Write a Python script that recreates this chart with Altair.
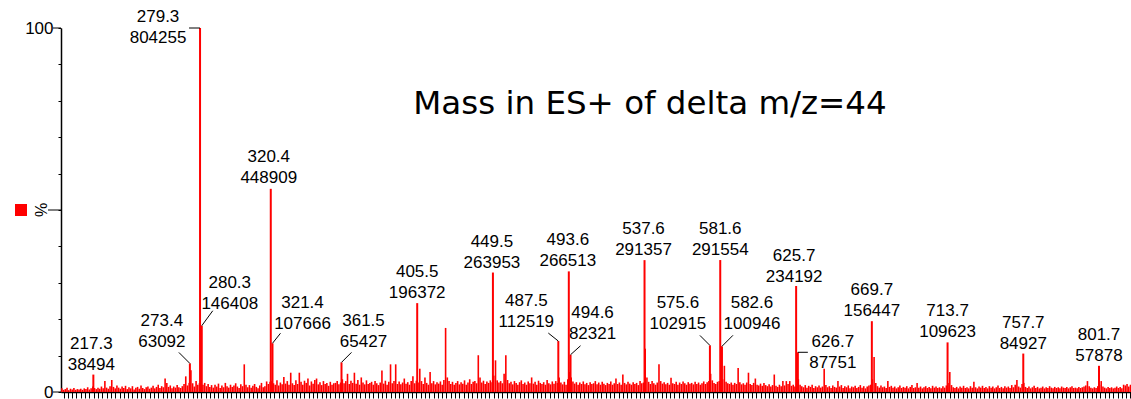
import altair as alt
import pandas as pd
import numpy as np

# ---------------- data ----------------
PEAK_MZ = [217.3, 273.4, 279.3, 280.3, 320.4, 321.4, 361.5, 405.5, 449.5, 487.5, 493.6,
           494.6, 537.6, 575.6, 581.6, 582.6, 625.7, 626.7, 669.7, 713.7, 757.7, 801.7]
PEAK_INT = [38494, 63092, 804255, 146408, 448909, 107666, 65427, 196372, 263953, 112519, 266513,
            82321, 291357, 102915, 291554, 100946, 234192, 87751, 156447, 109623, 84927, 57878]
BASE_INT = 804255

# unlabeled background sticks, % of base peak, one per integer m/z (row key = first m/z)
NOISE_ROWS = {
    199: [1.0, 0.6, 0.8, 1.2, 0.5, 0.9, 0.7, 1.1, 0.6, 0.8],
    209: [0.7, 0.9, 0.6, 1.0, 0.8, 1.3, 0.7, 1.0, 1.5, 1.1],
    219: [0.8, 1.2, 0.9, 1.5, 1.0, 3.0, 1.2, 0.9, 1.6, 3.3],
    229: [1.4, 1.0, 1.8, 1.2, 0.9, 1.5, 1.1, 1.7, 0.8, 1.3],
    239: [1.0, 1.6, 0.7, 1.2, 1.4, 0.9, 1.8, 1.1, 0.8, 1.3],
    249: [1.5, 0.9, 1.2, 1.7, 1.0, 1.4, 2.0, 1.1, 1.6, 1.3],
    259: [3.7, 2.5, 1.4, 1.8, 1.0, 1.5, 1.2, 1.9, 1.3, 1.1],
    269: [1.6, 2.2, 4.3, 1.8, 2.5, 6.0, 2.4, 1.5, 3.0, 2.0],
    279: [2.5, 3.0, 2.0, 2.5, 1.6, 2.2, 1.4, 1.9, 1.2, 2.0],
    289: [1.5, 2.3, 1.1, 1.8, 1.3, 2.5, 1.6, 1.2, 2.0, 1.4],
    299: [1.8, 2.4, 1.5, 1.1, 2.1, 1.6, 7.6, 2.0, 1.3, 1.9],
    309: [1.2, 1.7, 2.2, 1.4, 1.0, 1.8, 2.5, 1.3, 1.6, 2.9],
    319: [2.2, 2.8, 3.0, 2.4, 2.0, 3.2, 1.8, 2.6, 2.1, 4.1],
    329: [2.3, 3.0, 2.0, 5.3, 2.4, 1.9, 3.2, 2.2, 5.3, 2.8],
    339: [2.0, 3.1, 2.5, 3.7, 1.8, 2.9, 2.3, 3.3, 3.7, 2.1],
    349: [2.7, 1.9, 3.0, 2.2, 2.5, 1.7, 2.8, 2.0, 2.4, 2.5],
    359: [3.0, 2.1, 2.6, 3.5, 2.4, 3.0, 5.0, 2.2, 3.1, 2.5],
    369: [5.3, 2.3, 3.3, 2.0, 4.0, 2.6, 2.1, 3.2, 2.2, 2.5],
    379: [2.8, 2.0, 3.0, 2.4, 1.9, 2.6, 5.9, 2.3, 3.1, 2.0],
    389: [2.8, 7.6, 2.4, 3.0, 7.6, 2.2, 2.9, 2.1, 2.6, 3.7],
    399: [2.3, 2.7, 2.0, 3.0, 4.3, 2.4, 3.1, 2.6, 6.4, 3.0],
    409: [2.2, 4.0, 2.5, 2.0, 5.5, 2.4, 3.0, 2.1, 2.7, 2.3],
    419: [2.9, 2.0, 3.3, 17.6, 4.0, 3.0, 2.2, 2.8, 2.0, 2.5],
    429: [3.0, 2.1, 2.7, 2.3, 3.2, 2.0, 2.6, 3.5, 2.2, 2.8],
    439: [3.0, 2.4, 10.1, 4.0, 2.6, 3.1, 2.2, 2.9, 2.5, 3.2],
    449: [2.7, 4.5, 8.7, 3.2, 2.6, 3.0, 2.4, 5.0, 10.1, 3.3],
    459: [2.4, 2.8, 2.1, 3.0, 2.5, 2.0, 2.7, 3.2, 2.2, 2.6],
    469: [2.0, 2.9, 2.4, 4.0, 2.3, 2.8, 2.0, 3.1, 2.5, 2.2],
    479: [2.7, 2.0, 3.3, 2.4, 2.1, 2.9, 2.3, 3.0, 2.5, 4.0],
    489: [2.6, 2.1, 2.8, 2.0, 3.5, 5.5, 4.0, 2.9, 2.3, 2.7],
    499: [2.0, 2.6, 2.2, 2.9, 2.1, 2.5, 1.9, 2.7, 2.2, 2.4],
    509: [3.0, 2.1, 2.6, 2.0, 2.8, 2.3, 1.9, 2.5, 2.2, 2.9],
    519: [2.0, 2.4, 3.7, 2.2, 2.6, 2.0, 4.8, 2.5, 2.1, 2.8],
    529: [2.3, 2.0, 2.7, 2.2, 2.5, 1.9, 3.0, 2.4, 2.6, 11.9],
    539: [4.0, 2.8, 2.2, 3.0, 2.4, 2.0, 2.6, 7.6, 3.0, 2.3],
    549: [2.7, 2.1, 2.5, 2.0, 3.9, 2.4, 2.2, 2.8, 2.0, 2.6],
    559: [2.2, 2.9, 2.4, 2.0, 2.7, 2.3, 2.5, 2.1, 2.8, 2.2],
    569: [2.6, 2.0, 2.4, 2.9, 2.2, 2.7, 3.0, 5.0, 3.2, 2.5],
    579: [2.2, 2.8, 3.0, 4.5, 3.5, 7.2, 2.8, 2.4, 2.2, 2.6],
    589: [2.0, 2.5, 2.2, 6.6, 2.7, 2.1, 2.4, 2.0, 2.6, 5.3],
    599: [2.2, 1.9, 2.5, 3.7, 2.0, 1.8, 2.3, 1.7, 2.5, 1.9],
    609: [1.6, 2.1, 1.5, 1.9, 4.8, 1.7, 1.4, 2.0, 1.6, 3.0],
    619: [1.8, 3.0, 2.2, 3.0, 1.7, 2.0, 1.5, 2.3, 3.5, 2.0],
    629: [1.6, 1.3, 1.9, 1.2, 1.7, 1.4, 2.0, 1.1, 1.6, 1.3],
    639: [1.8, 1.2, 1.5, 6.4, 1.9, 1.3, 1.6, 1.1, 1.8, 1.4],
    649: [1.2, 3.0, 1.5, 1.9, 1.1, 1.6, 1.3, 1.8, 1.0, 1.5],
    659: [1.3, 1.7, 1.1, 1.4, 1.9, 1.2, 1.6, 1.0, 1.5, 1.8],
    669: [2.0, 3.5, 9.6, 2.5, 1.6, 1.2, 1.8, 1.3, 1.5, 1.1],
    679: [3.0, 1.4, 1.7, 1.2, 1.5, 1.0, 1.3, 1.8, 1.1, 1.4],
    689: [1.2, 1.6, 1.0, 1.4, 1.9, 1.1, 1.3, 2.5, 1.2, 1.5],
    699: [1.0, 1.3, 1.6, 1.1, 1.4, 1.0, 1.7, 1.2, 1.5, 1.1],
    709: [1.3, 1.0, 1.6, 1.2, 1.8, 2.5, 5.5, 1.9, 1.3, 1.1],
    719: [1.4, 1.0, 1.5, 1.2, 1.7, 1.1, 1.3, 1.0, 1.6, 1.2],
    729: [2.8, 1.3, 1.0, 1.5, 1.2, 1.7, 1.1, 1.4, 1.0, 1.6],
    739: [1.2, 1.5, 1.0, 1.3, 1.8, 1.1, 1.4, 1.0, 1.6, 1.2],
    749: [1.5, 1.1, 1.9, 1.3, 2.0, 3.3, 1.5, 1.2, 2.2, 2.5],
    759: [1.4, 1.1, 1.5, 1.0, 1.3, 1.7, 1.1, 1.4, 1.0, 1.2],
    769: [1.5, 1.0, 1.3, 1.1, 1.6, 1.2, 1.0, 1.4, 1.1, 1.3],
    779: [1.0, 1.5, 1.2, 1.1, 1.4, 1.0, 1.3, 1.6, 1.1, 1.2],
    789: [1.0, 1.4, 1.1, 1.3, 1.5, 1.8, 3.0, 1.6, 1.2, 1.0],
    799: [1.3, 1.1, 1.6, 2.0, 3.0, 1.5, 1.2, 1.0, 1.4, 1.1],
    809: [1.3, 1.0, 1.2, 1.5, 1.1, 1.4, 1.0, 2.0, 1.8, 2.2],
    819: [1.5, 2.0],
}

TITLE = "Mass in ES+ of delta m/z=44"

# ---------------- layout (pixels) ----------------
# label offset (dx, dy of first line) from the peak top, and leader start offset (or None)
LABEL_DX = [-2, -28, -42, 28, -2, 30, 22, 0, -1, -32, -1, 22, -1, -32, 0, 30, -2, 35, 0, 0, 0, 0]
LABEL_DY = [-31, -42, -11, -43, -32, -40, -41, -31, -31, -40, -31, -42, -31, -42, -31, -43, -30, -10,
            -31, -31, -31, -31]
LEADERS = [None, (-11, -11), (-11, 0), (11, -15), None, (8, -10), (10, -10), None, None, (-10, -8),
           None, (10, -9), None, (-10, -10), None, (11, -11), None, (10, 0), None, None, None, None]

X_MIN, X_MAX = 198.5, 820.3
W, H = 1070, 364
PX_MZ = W / (X_MAX - X_MIN)
PX_PCT = H / 100.0
LINE_GAP = 21
FONT = "Liberation Sans"
RED = "#ff0000"

# ---------------- tables ----------------
pct = [i / BASE_INT * 100 for i in PEAK_INT]
peaks = pd.DataFrame({
    "mz": PEAK_MZ,
    "pct": pct,
    "base": 0.0,
    "line1": [f"{m:.1f}" for m in PEAK_MZ],
    "line2": [str(i) for i in PEAK_INT],
    "lx": [m + dx / PX_MZ for m, dx in zip(PEAK_MZ, LABEL_DX)],
    "ly": [p - dy / PX_PCT for p, dy in zip(pct, LABEL_DY)],
})

nz_mz, nz_pct = [], []
for start, vals in NOISE_ROWS.items():
    for k, v in enumerate(vals):
        nz_mz.append(start + k)
        nz_pct.append(v)
noise = pd.DataFrame({"mz": nz_mz, "pct": nz_pct, "base": 0.0})

lead_rows = []
for m, p, ld in zip(PEAK_MZ, pct, LEADERS):
    if ld is None:
        continue
    lead_rows.append({"x1": m + ld[0] / PX_MZ, "y1": p - ld[1] / PX_PCT, "x2": m, "y2": p})
leaders = pd.DataFrame(lead_rows)

# ---------------- scales / axes ----------------
xscale = alt.Scale(domain=[X_MIN, X_MAX], nice=False, zero=False)
yscale = alt.Scale(domain=[0, 100], nice=False, zero=True)
xaxis = alt.Axis(values=list(np.arange(200, 821, 2.5)), labels=False, title=None, grid=False,
                 tickSize=6, tickColor="black", domainColor="black", domainWidth=1.5, tickWidth=1)
yaxis = alt.Axis(values=list(range(0, 101, 10)), title=None, grid=False, tickSize=3,
                 tickColor="black", domainColor="black", domainWidth=1.5, tickWidth=1,
                 labelExpr="datum.value == 0 || datum.value == 100 ? datum.value : ''",
                 labelFont=FONT, labelFontSize=17, labelColor="black", labelPadding=5)


def X(f):
    return alt.X(f, type="quantitative", scale=xscale, axis=xaxis)


def Y(f):
    return alt.Y(f, type="quantitative", scale=yscale, axis=yaxis)


noise_layer = alt.Chart(noise).mark_rule(color=RED, strokeWidth=1.6).encode(
    x=X("mz"), y=Y("pct"), y2="base")
peak_layer = alt.Chart(peaks).mark_rule(color=RED, strokeWidth=2).encode(
    x=X("mz"), y=Y("pct"), y2="base")
lead_layer = alt.Chart(leaders).mark_rule(color="black", strokeWidth=1).encode(
    x=X("x1"), y=Y("y1"), x2="x2", y2="y2")
text1 = alt.Chart(peaks).mark_text(font=FONT, fontSize=17, color="black", align="center",
                                   baseline="middle").encode(x=X("lx"), y=Y("ly"), text="line1")
text2 = alt.Chart(peaks).mark_text(font=FONT, fontSize=17, color="black", align="center",
                                   baseline="middle", dy=LINE_GAP).encode(
    x=X("lx"), y=Y("ly"), text="line2")

# long ticks at 0, 50 and 100
long_ticks = alt.Chart(pd.DataFrame({"v": [0, 100]})).mark_rule(color="black").encode(
    y=Y("v"), x=alt.value(-8), x2=alt.value(0))
mid_tick = alt.Chart(pd.DataFrame({"v": [50]})).mark_rule(color="black").encode(
    y=Y("v"), x=alt.value(-13), x2=alt.value(0))
pct_sym = alt.Chart(pd.DataFrame({"v": [50], "t": ["%"]})).mark_text(
    font=FONT, fontSize=16, angle=270, color="black", align="center", baseline="middle").encode(
    y=Y("v"), x=alt.value(-19), text="t")
red_sq = alt.Chart(pd.DataFrame({"v": [50]})).mark_square(
    color=RED, filled=True, opacity=1, size=144).encode(y=Y("v"), x=alt.value(-40))

title = alt.Chart(pd.DataFrame({"t": [TITLE]})).mark_text(
    font="DejaVu Sans", fontSize=32.5, color="black", align="center", baseline="alphabetic").encode(
    x=alt.value(589), y=alt.value(86), text="t")

chart = alt.layer(
    noise_layer, peak_layer, lead_layer, text1, text2, long_ticks, mid_tick, pct_sym, red_sq, title
).properties(
    width=W, height=H,
    autosize=alt.AutoSizeParams(type="none"),
    padding={"left": 61, "top": 28, "right": 0, "bottom": 7},
    background="white",
).configure_view(strokeWidth=0)

chart.save("out.html", embed_options={"renderer": "svg", "actions": False})
